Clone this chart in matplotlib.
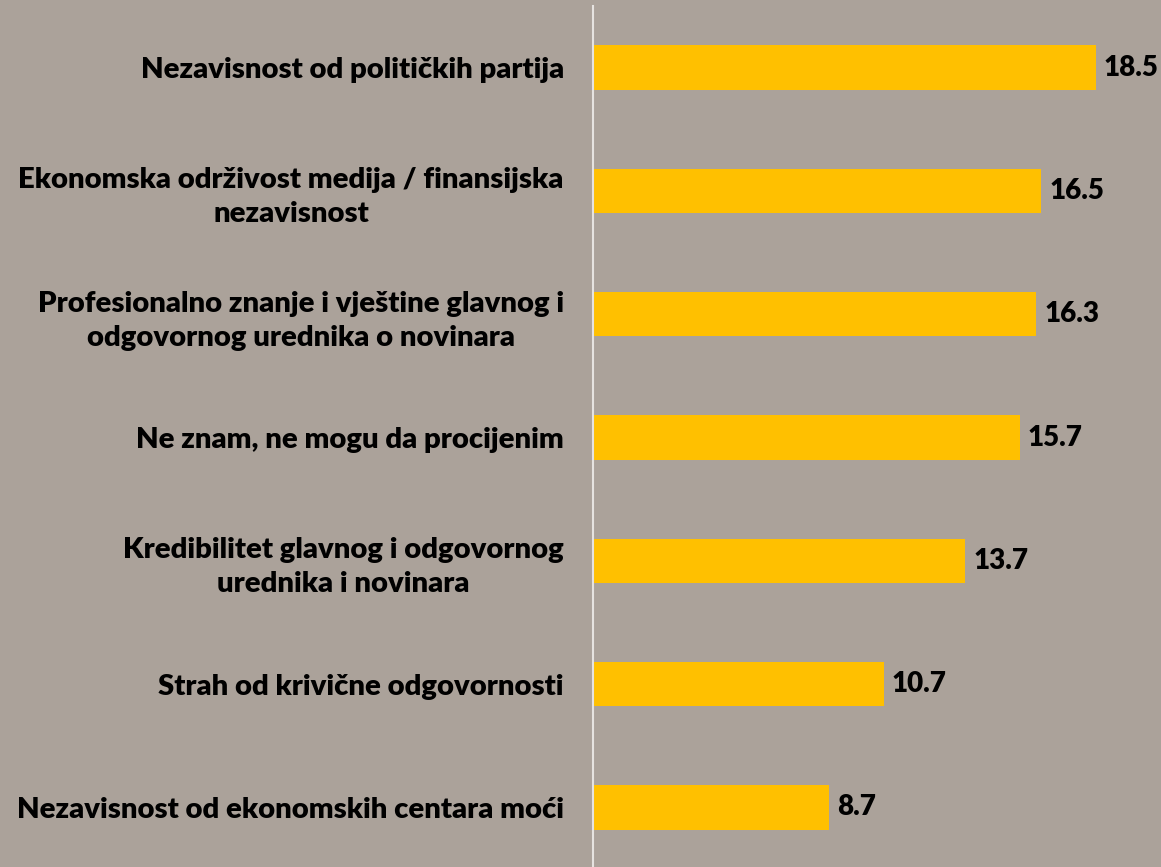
import matplotlib
matplotlib.use("Agg")
from matplotlib import pyplot as plt

categories = [
    "Nezavisnost od političkih partija",
    "Ekonomska održivost medija / finansijska\nnezavisnost",
    "Profesionalno znanje i vještine glavnog i\nodgovornog urednika o novinara",
    "Ne znam, ne mogu da procijenim",
    "Kredibilitet glavnog i odgovornog\nurednika i novinara",
    "Strah od krivične odgovornosti",
    "Nezavisnost od ekonomskih centara moći",
]
values = [18.5, 16.5, 16.3, 15.7, 13.7, 10.7, 8.7]

bg = "#aba29a"
plt.rcParams["font.family"] = ["Lato", "DejaVu Sans"]

fig = plt.figure(figsize=(11.61, 8.67), dpi=100, facecolor=bg)
ax = fig.add_axes([593 / 1161, -2 / 867, 568 / 1161, 863 / 867])
ax.set_facecolor(bg)

ypos = list(range(len(categories)))
ax.barh(ypos, values, height=0.36, color="#ffc000", zorder=2)
ax.set_xlim(0, 20.9)
ax.set_ylim(6.5, -0.5)

for y, v in zip(ypos, values):
    ax.text(v + 0.3, y, f"{v:.1f}", va="center", ha="left",
            fontsize=20, fontweight="heavy", color="black")

ax.set_yticks(ypos)
ax.set_yticklabels(categories, fontsize=21.1, fontweight="heavy",
                   multialignment="center", linespacing=1.38)
ax.tick_params(axis="y", length=0, pad=21)
ax.set_xticks([])
for s in ["top", "right", "bottom"]:
    ax.spines[s].set_visible(False)
ax.spines["left"].set_color("#e6e3e0")
ax.spines["left"].set_linewidth(1.5)

fig.savefig("out.png", dpi=100, facecolor=bg)
